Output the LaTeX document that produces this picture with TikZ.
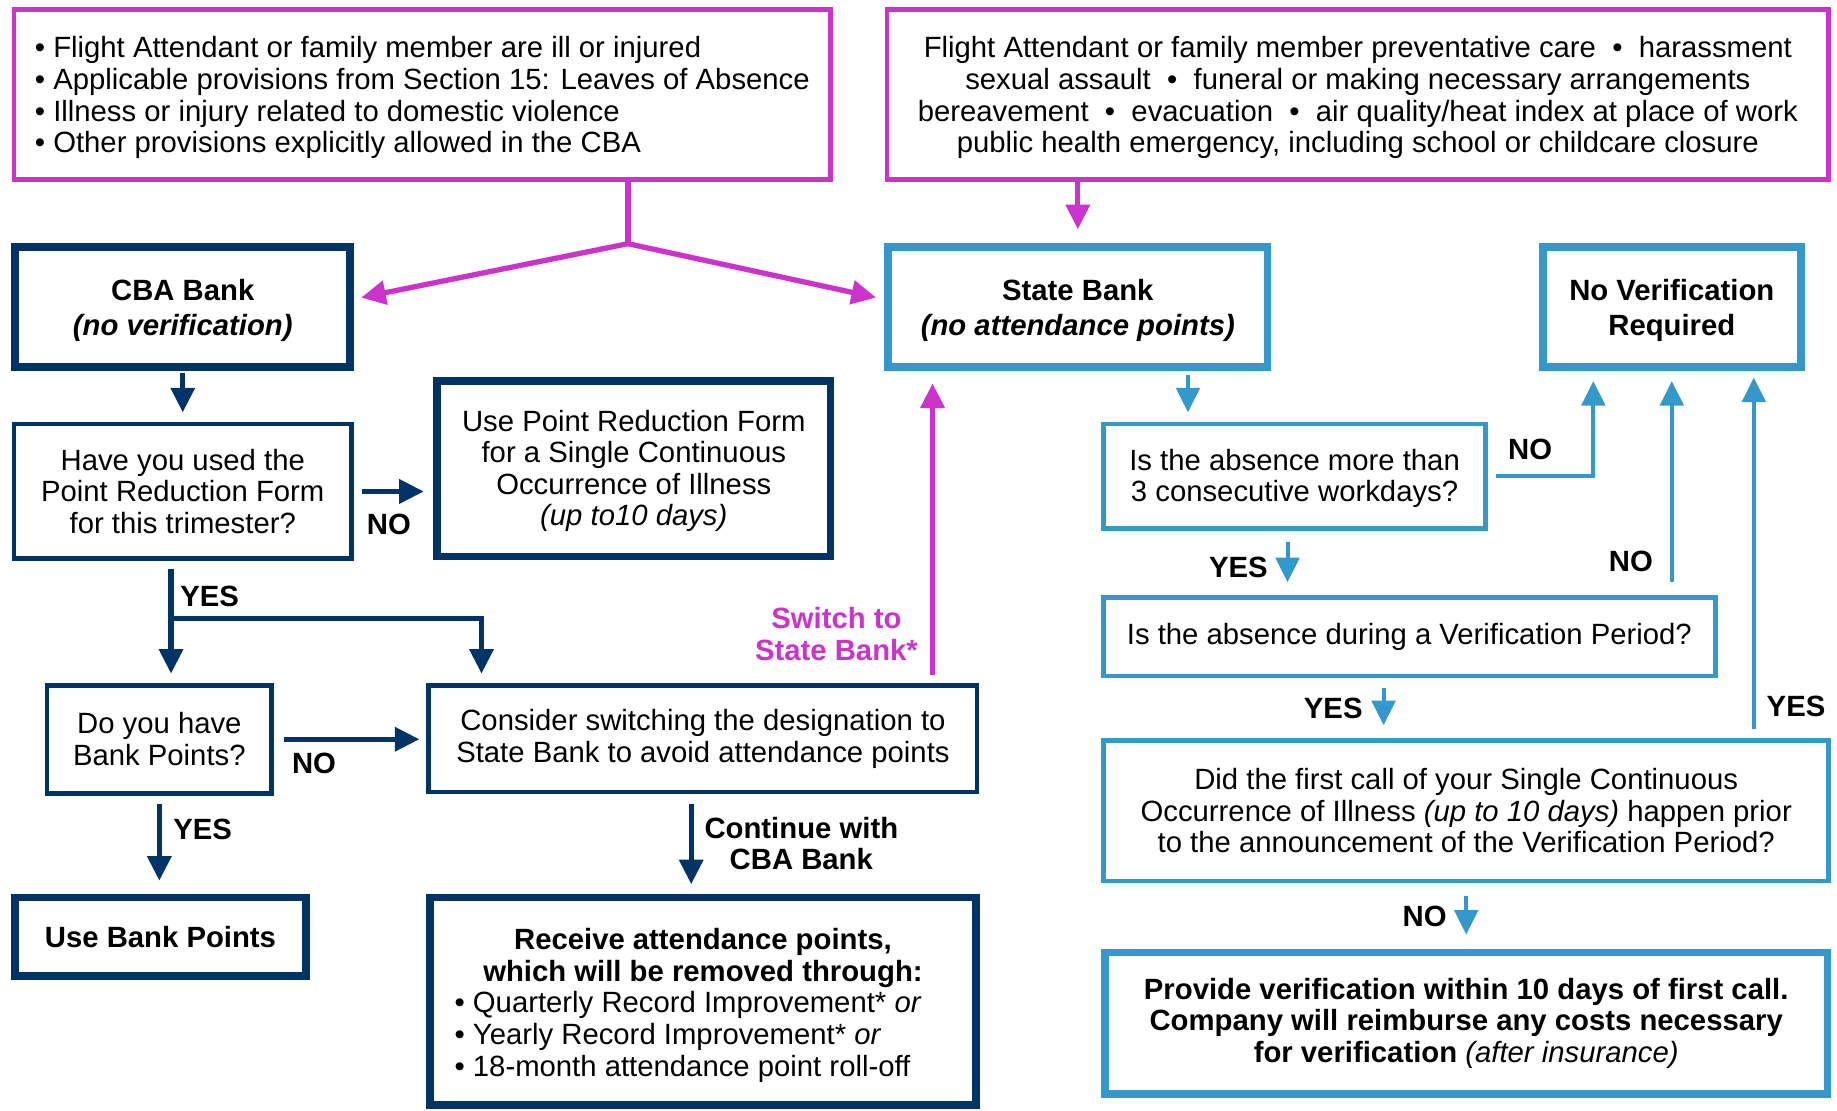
\documentclass[tikz,border=0pt]{standalone}
\usepackage{fontspec}
\setmainfont{Liberation Sans}
\usetikzlibrary{arrows.meta}
\definecolor{rose}{RGB}{204,51,204}
\definecolor{marine}{RGB}{0,51,102}
\definecolor{ciel}{RGB}{51,153,204}
\newcommand{\haut}[1]{\rule{0pt}{#1pt}}

\begin{document}
\begin{tikzpicture}[x=1pt,y=-1pt,
    every node/.style={font=\fontsize{25}{27}\selectfont, align=center, inner sep=2pt},
    boxrose/.style={draw=rose, line width=4pt},
    boxmarine/.style={draw=marine, line width=4pt},
    boxmarinefort/.style={draw=marine, line width=6.5pt},
    boxciel/.style={draw=ciel, line width=4pt},
    boxcielfort/.style={draw=ciel, line width=6.5pt},
    gras/.style={font=\fontsize{25}{27}\selectfont\bfseries},
    pointe/.style={-{Triangle[length=21pt,width=20pt]}},
    flecherose/.style={draw=rose, line width=4.5pt, pointe},
    flechemarine/.style={draw=marine, line width=4.5pt, pointe},
    flecheciel/.style={draw=ciel, line width=3.5pt, pointe}]
    \useasboundingbox (0,0) rectangle (1568,948);
    % cadres du haut
    \node[boxrose, minimum width=697pt, minimum height=145pt, align=left] (src1) at (360.5,80.5)
      {\haut{24}•~Flight Attendant or family member are ill or injured\\
       •~Applicable provisions from Section 15: Leaves of Absence\\
       •~Illness or injury related to domestic violence\\
       •~Other provisions explicitly allowed in the CBA};
    \node[boxrose, minimum width=804pt, minimum height=145pt] (src2) at (1159,80.5)
      {\haut{24}Flight Attendant or family member preventative care~~•~~harassment\\
       sexual assault~~•~~funeral or making necessary arrangements\\
       bereavement~~•~~evacuation~~•~~air quality/heat index at place of work\\
       public health emergency, including school or childcare closure};
    % banques
    \node[boxmarinefort, gras, minimum width=286pt, minimum height=102pt] (cba) at (156,262)
      {\haut{24}CBA Bank\\[3pt]\textit{(no verification)}};
    \node[boxcielfort, gras, minimum width=324pt, minimum height=102pt] (state) at (920,262)
      {\haut{24}State Bank\\[3pt]\textit{(no attendance points)}};
    \node[boxcielfort, gras, minimum width=220pt, minimum height=102pt] (noverif) at (1427,262)
      {\haut{24}No Verification\\[3pt]Required};
    % colonne CBA
    \node[boxmarine, minimum width=288pt, minimum height=115pt] (have) at (156,419.5)
      {Have you used the\\Point Reduction Form\\for this trimester?};
    \node[boxmarinefort, minimum width=336pt, minimum height=150pt] (prf) at (541,400)
      {\haut{22}Use Point Reduction Form\\for a Single Continuous\\Occurrence of Illness\\\textit{(up to10 days)}};
    \node[boxmarine, minimum width=192pt, minimum height=92pt] (dobank) at (136,631)
      {Do you have\\Bank Points?};
    \node[boxmarine, minimum width=468pt, minimum height=91pt] (consider) at (600,630.5)
      {Consider switching the designation to\\State Bank to avoid attendance points};
    \node[boxmarinefort, gras, minimum width=248pt, minimum height=67pt] (usebank) at (137,799.5)
      {Use Bank Points};
    \node[boxmarinefort, minimum width=466pt, minimum height=177pt] (receive) at (600,854.5)
      {\haut{28}\textbf{Receive attendance points,}\\
       \textbf{which will be removed through:}\\
       \makebox[424pt][l]{\begin{tabular}[t]{@{}l@{}}
         •~Quarterly Record Improvement* \textit{or}\\
         •~Yearly Record Improvement* \textit{or}\\
         •~18-month attendance point roll-off
       \end{tabular}}};
    % colonne State
    \node[boxciel, minimum width=326pt, minimum height=89pt] (more3) at (1105,406.5)
      {\haut{22}Is the absence more than\\3 consecutive workdays?};
    \node[boxciel, minimum width=522pt, minimum height=67pt] (during) at (1203,543.5)
      {Is the absence during a Verification Period?};
    \node[boxciel, minimum width=619pt, minimum height=120pt] (first) at (1251.5,692)
      {Did the first call of your Single Continuous\\
       Occurrence of Illness \textit{(up to 10 days)} happen prior\\
       to the announcement of the Verification Period?};
    \node[boxcielfort, gras, minimum width=617pt, minimum height=121pt] (provide) at (1251.5,873.5)
      {Provide verification within 10 days of first call.\\
       Company will reimburse any costs necessary\\
       for verification \textmd{\textit{(after insurance)}}};
    % fleches roses
    \coordinate (fork) at (536,208);
    \draw[rose, line width=4.5pt] (src1.south -| fork) -- (fork);
    \draw[rose, line width=4.5pt, {Triangle[length=21pt,width=20pt]}-{Triangle[length=21pt,width=20pt]}]
      ([xshift=6pt,yshift=8pt]cba.east) -- (fork) -- ([xshift=-7pt,yshift=8pt]state.west);
    \draw[flecherose] (src2.south -| state.north) -- ([yshift=12pt]state.north);
    \draw[flecherose] ([xshift=-40pt,yshift=7pt]consider.north east) -- ([xshift=-40pt,yshift=-11pt]consider.north east |- state.south);
    \node[gras, text=rose] (switch) at (714,541) {Switch to\\State Bank*};
    % fleches marine
    \draw[flechemarine] ([yshift=-2pt]cba.south) -- ([yshift=8pt]have.north);
    \draw[flechemarine] ([xshift=7pt]have.east) -- ([xshift=-8pt]have.east -| prf.west);
    \node[gras] (no1) at (332,448) {NO};
    \coordinate (yesfork) at (146,528);
    \draw[flechemarine] ([xshift=-10pt,yshift=-7pt]have.south) -- ([xshift=-10pt,yshift=8pt]have.south |- dobank.north);
    \draw[flechemarine] (yesfork) -| ([xshift=47pt,yshift=8pt]consider.north west);
    \node[gras] (yes1) at (179,509) {YES};
    \draw[flechemarine] ([xshift=8pt]dobank.east) -- ([xshift=-6pt]dobank.east -| consider.west);
    \node[gras] (no2) at (268,652) {NO};
    \draw[flechemarine] ([yshift=-7pt]dobank.south) -- ([yshift=11pt]dobank.south |- usebank.north);
    \node[gras] (yes2) at (173,708) {YES};
    \draw[flechemarine] ([xshift=-10pt,yshift=-8pt]consider.south) -- ([xshift=-10pt,yshift=8pt]consider.south |- receive.north);
    \node[gras] (cont) at (684,720) {Continue with\\CBA Bank};
    % fleches ciel
    \draw[flecheciel] ([xshift=94pt,yshift=-4pt]state.south) -- ([xshift=94pt,yshift=8pt]state.south |- more3.north);
    \draw[flecheciel] ([xshift=7pt]more3.east) -| ([xshift=-67pt,yshift=-9pt]noverif.south);
    \node[gras] (no3) at (1306,384) {NO};
    \draw[flecheciel] ([xshift=-6pt,yshift=-10pt]more3.south) -- ([xshift=-6pt,yshift=11pt]more3.south |- during.north);
    \node[gras] (yes3) at (1057,484) {YES};
    \draw[flecheciel] ([yshift=11pt]noverif.south |- during.north) -- ([yshift=-9pt]noverif.south);
    \node[gras] (no4) at (1392,479) {NO};
    \draw[flecheciel] ([xshift=-22pt,yshift=-8pt]during.south) -- ([xshift=-22pt,yshift=11pt]during.south |- first.north);
    \node[gras] (yes4) at (1138,605) {YES};
    \draw[flecheciel] ([xshift=70pt,yshift=8pt]noverif.south |- first.north) -- ([xshift=70pt,yshift=-6pt]noverif.south);
    \node[gras] (yes5) at (1533,603) {YES};
    \draw[flecheciel] ([yshift=-11pt]first.south) -- ([yshift=12pt]provide.north);
    \node[gras] (no5) at (1216,782) {NO};
\end{tikzpicture}
\end{document}
